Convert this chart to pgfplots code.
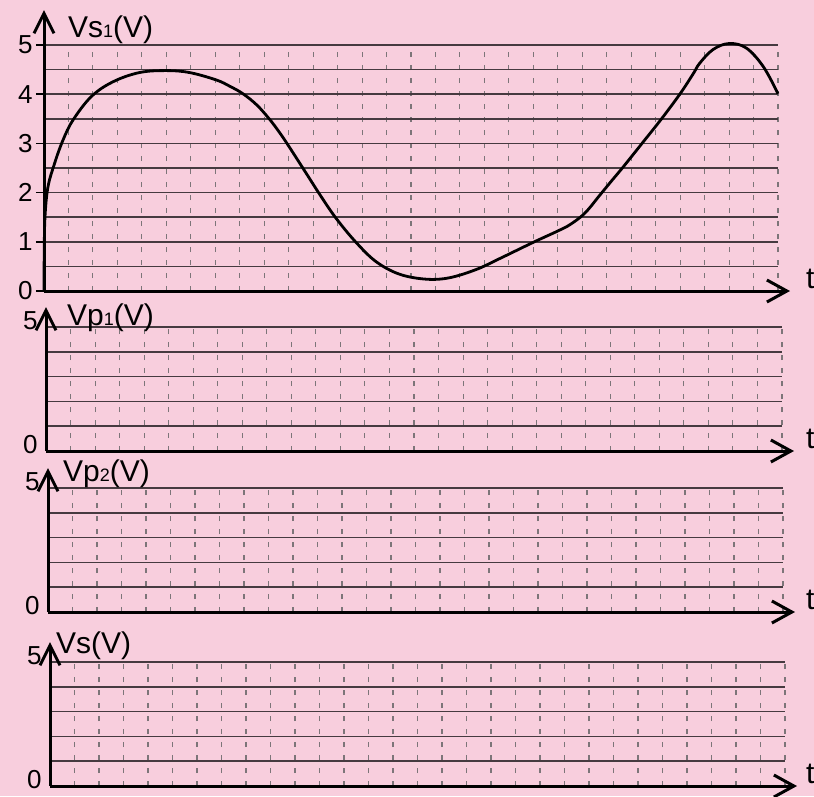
\documentclass[border=0pt]{standalone}
\usepackage{pgfplots}
\pgfplotsset{compat=1.18}
\usetikzlibrary{arrows.meta}
\usepackage{fontspec}
\setmainfont{Liberation Sans}
\definecolor{bgpink}{RGB}{248,206,221}
\definecolor{gridc}{RGB}{70,58,64}

\pgfplotsset{
 panel/.style={
  scale only axis, anchor=south west,
  xmin=0, xmax=30, ymin=0, ymax=5,
  axis lines=left,
  clip=false,
  xtick={1,...,30}, xticklabels={},
  xtick style={draw=none},
  major x grid style={gridc!70, line width=1.1pt, dash pattern=on 5pt off 8pt},
  major y grid style={gridc, line width=1.6pt},
  minor y grid style={gridc, line width=1.6pt},
  x axis line style={line width=3pt, black, -{Straight Barb[length=20pt,width=22pt]}, shorten >=-12pt},
  tick label style={font=\fontsize{26}{26}\selectfont},
  /pgf/number format/assume math mode=true,
 },
 lower/.style={
  panel, grid=major,
  height=124pt,
  ytick={0,...,5}, yticklabels={0,,,,,5},
  major tick length=0pt,
  yticklabel style={yshift=6pt, xshift=-5pt},
  y axis line style={line width=3pt, black, -{Straight Barb[length=20pt,width=20pt]}, shorten >=-20pt},
 }
}

\begin{document}
\begin{tikzpicture}
\useasboundingbox (0pt,0pt) rectangle (814pt,-796pt);
\fill[bgpink] (0pt,0pt) rectangle (814pt,-796pt);

% Panel 1 : Vs1
\begin{axis}[panel, at={(44pt,-291pt)}, width=734pt, height=246pt,
  grid=both,
  ytick={0,...,5}, minor ytick={0.5,1.5,...,4.5},
  tick align=outside, major tick length=8pt, minor tick length=0pt,
  ytick style={black, line width=1.6pt},
  y axis line style={line width=3pt, black, -{Straight Barb[length=20pt,width=20pt]}, shorten >=-35pt},
]
\addplot[black, line width=2.8pt, smooth, tension=0.6] coordinates {
(0,0)(0.01,0.8)(0.04,1.5)(0.16,2.11)(0.43,2.59)(0.77,3.06)(1.18,3.47)(1.93,3.95)
(2.81,4.25)(3.9,4.44)(5.0,4.48)(5.95,4.44)(7.04,4.29)(7.6,4.16)(8.13,4.01)(8.7,3.78)
(9.22,3.49)(9.6,3.24)(9.97,2.97)(10.72,2.39)(11.3,1.94)(11.95,1.47)(12.77,0.98)
(13.59,0.59)(14.54,0.34)(15.63,0.24)(16.58,0.27)(17.68,0.44)(18.63,0.66)(20.0,0.99)
(21.0,1.22)(21.5,1.35)(22.1,1.58)(22.72,1.95)(23.2,2.24)(23.67,2.52)(24.49,3.03)
(25.24,3.5)(26.0,4.01)(26.54,4.42)(26.8,4.63)(27.35,4.91)(28.0,5.03)(28.7,4.94)
(29.4,4.56)(30.0,4.01)
};
\end{axis}

% Panel 2 : Vp1
\begin{axis}[lower, at={(46pt,-451pt)}, width=736pt]
\end{axis}

% Panel 3 : Vp2
\begin{axis}[lower, at={(48pt,-612pt)}, width=735pt]
\end{axis}

% Panel 4 : Vs
\begin{axis}[lower, at={(50pt,-786pt)}, width=735pt]
\end{axis}

\begin{scope}[every node/.style={anchor=base west, inner sep=0pt, font=\fontsize{30}{30}\selectfont}]
\node at (68pt,-37pt) {Vs{\fontsize{18}{18}\selectfont 1}(V)};
\node at (67pt,-325pt) {Vp{\fontsize{18}{18}\selectfont 1}(V)};
\node at (63pt,-481pt) {Vp{\fontsize{18}{18}\selectfont 2}(V)};
\node at (56pt,-653pt) {Vs(V)};
\node at (806pt,-288pt) {t};
\node at (806pt,-448pt) {t};
\node at (806pt,-609pt) {t};
\node at (806pt,-783pt) {t};
\end{scope}
\end{tikzpicture}
\end{document}
